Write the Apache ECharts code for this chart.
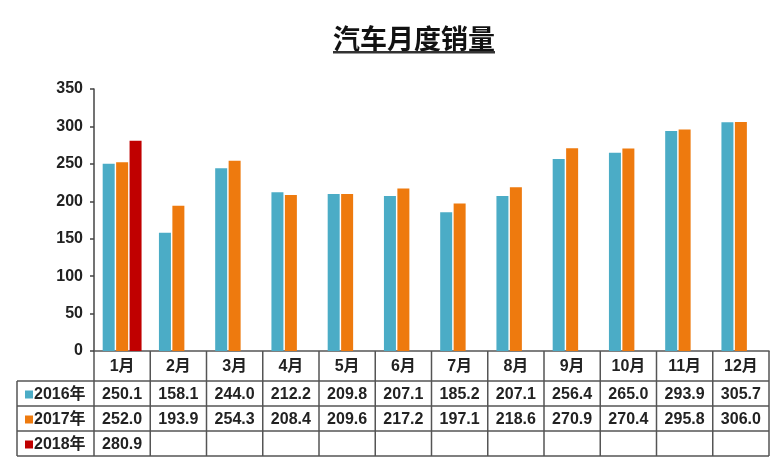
<!DOCTYPE html>
<html>
<head>
    <meta charset="UTF-8">
    <title>汽车月度销量</title>
    <script src="https://cdn.jsdelivr.net/npm/echarts@6/dist/echarts.min.js"></script>
    <style>
        html, body { margin: 0; padding: 0; background: #fff; }
    </style>
</head>
<body>
    <div id="main" style="width: 783px;height:473px;"></div>
    <script type="text/javascript">
        // 数据
        var months = ['1月', '2月', '3月', '4月', '5月', '6月', '7月', '8月', '9月', '10月', '11月', '12月'];
        var years = ['2016年', '2017年', '2018年'];
        var sales2016 = [250.1, 158.1, 244.0, 212.2, 209.8, 207.1, 185.2, 207.1, 256.4, 265.0, 293.9, 305.7];
        var sales2017 = [252.0, 193.9, 254.3, 208.4, 209.6, 217.2, 197.1, 218.6, 270.9, 270.4, 295.8, 306.0];
        var sales2018 = [280.9, null, null, null, null, null, null, null, null, null, null, null];
        var colors = ['#4BACC6', '#EE7A0E', '#C00000'];

        var font = '"Liberation Sans", Arial, "Noto Sans CJK SC", sans-serif';
        var lineColor = '#555';

        var myChart = echarts.init(document.getElementById('main'));

        var rows = [sales2016, sales2017, sales2018];
        var series = rows.map(function (d, i) {
            return {
                name: years[i],
                type: 'bar',
                data: d,
                barWidth: 12,
                barGap: '12%',
                itemStyle: { color: colors[i] }
            };
        });

        myChart.setOption({
            animation: false,
            grid: { left: 94, right: 14, top: 89, bottom: 122 },
            xAxis: {
                type: 'category',
                data: months,
                axisLine: { show: true, lineStyle: { color: lineColor, width: 1.5 } },
                axisTick: { show: false },
                axisLabel: { show: false }
            },
            yAxis: {
                type: 'value',
                min: 0,
                max: 350,
                interval: 50,
                axisLine: { show: true, lineStyle: { color: '#444', width: 1.5 } },
                axisTick: { show: true, length: 4, lineStyle: { color: '#444', width: 1.5 } },
                splitLine: { show: false },
                axisLabel: {
                    margin: 11,
                    color: '#222',
                    fontSize: 16,
                    fontWeight: 'bold',
                    fontFamily: font
                }
            },
            series: series
        });

        // 数据表
        function drawTable() {
            var p0 = myChart.convertToPixel({ xAxisIndex: 0 }, months[0]);
            var p1 = myChart.convertToPixel({ xAxisIndex: 0 }, months[1]);
            var bw = p1 - p0;
            var x0 = p0 - bw / 2;
            var x1 = x0 + bw * months.length;
            var y0 = myChart.convertToPixel({ yAxisIndex: 0 }, 0);
            var headH = 30, rowH = 25;
            var labelLeft = 17;
            var els = [];
            var ls = { stroke: lineColor, lineWidth: 1.5 };

            // 标题
            els.push({
                type: 'text', x: 414, y: 39,
                style: { text: '汽车月度销量', fill: '#111', font: 'bold 27px "Noto Sans CJK SC", sans-serif', textAlign: 'center', textVerticalAlign: 'middle' }
            });
            els.push({
                type: 'rect', shape: { x: 333, y: 51, width: 162, height: 2.5 },
                style: { fill: '#333' }
            });

            var yEnd = y0 + headH + rowH * rows.length;
            // 竖线
            for (var i = 0; i <= months.length; i++) {
                var x = x0 + bw * i;
                els.push({ type: 'line', shape: { x1: x, y1: y0, x2: x, y2: yEnd }, style: ls });
            }
            els.push({ type: 'line', shape: { x1: labelLeft, y1: y0 + headH, x2: labelLeft, y2: yEnd }, style: ls });
            // 横线
            for (var r = 0; r <= rows.length; r++) {
                var y = y0 + headH + rowH * r;
                els.push({ type: 'line', shape: { x1: labelLeft, y1: y, x2: x1, y2: y }, style: ls });
            }
            // 表头
            months.forEach(function (m, i) {
                els.push({
                    type: 'text', x: x0 + bw * (i + 0.5), y: y0 + headH / 2 + 1,
                    style: { text: m, fill: '#222', font: 'bold 16px ' + font, textAlign: 'center', textVerticalAlign: 'middle' }
                });
            });
            // 数据行
            rows.forEach(function (d, r) {
                var cy = y0 + headH + rowH * (r + 0.5) + 1;
                els.push({
                    type: 'rect', shape: { x: 25, y: cy - 4, width: 8, height: 8 },
                    style: { fill: colors[r] }
                });
                els.push({
                    type: 'text', x: 34, y: cy,
                    style: { text: years[r], fill: '#222', font: 'bold 16px ' + font, textAlign: 'left', textVerticalAlign: 'middle' }
                });
                d.forEach(function (v, i) {
                    if (v === null) return;
                    els.push({
                        type: 'text', x: x0 + bw * (i + 0.5), y: cy,
                        style: { text: v.toFixed(1), fill: '#222', font: 'bold 16px ' + font, textAlign: 'center', textVerticalAlign: 'middle' }
                    });
                });
            });

            myChart.setOption({ graphic: { elements: els } });
        }
        drawTable();
    </script>
</body>
</html>
